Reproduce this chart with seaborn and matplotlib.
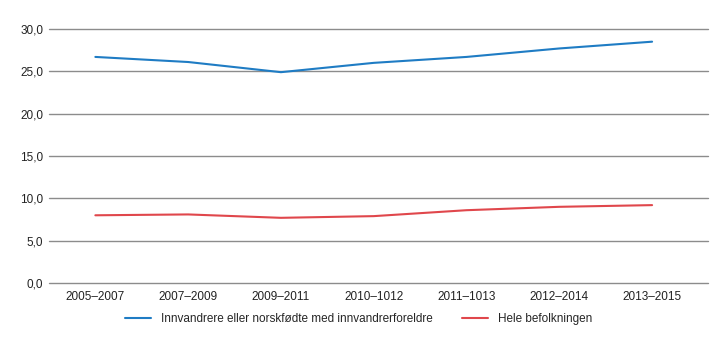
import matplotlib
matplotlib.use("Agg")
import matplotlib.pyplot as plt
import seaborn as sns
import pandas as pd

categories = ["2005–2007", "2007–2009", "2009–2011", "2010–1012", "2011–1013", "2012–2014", "2013–2015"]
innvandrere = [26.7, 26.1, 24.9, 26.0, 26.7, 27.7, 28.5]
hele = [8.0, 8.1, 7.7, 7.9, 8.6, 9.0, 9.2]
series_names = ["Innvandrere eller norskfødte med innvandrerforeldre", "Hele befolkningen"]
yticks = [0, 5, 10, 15, 20, 25, 30]

sns.set_theme(style="white")
plt.rcParams['font.family'] = ['Liberation Sans Narrow', 'Liberation Sans', 'DejaVu Sans']

df = pd.DataFrame({
    "periode": categories * 2,
    "verdi": innvandrere + hele,
    "serie": [series_names[0]] * len(categories) + [series_names[1]] * len(categories),
})

fig = plt.figure(figsize=(7.2, 3.41), dpi=100)
ax = fig.add_axes([0.068, 0.17, 0.915, 0.745])

for y in yticks:
    ax.axhline(y, color="#8c8c8c", lw=1.0, zorder=0, clip_on=False)

sns.lineplot(data=df, x="periode", y="verdi", hue="serie", sort=False,
             palette=["#1f7cc4", "#e0474c"], lw=1.5, ax=ax)

ax.set_xlim(-0.5, len(categories) - 0.4)
ax.set_ylim(0, 30)
ax.set_yticks(yticks)
ax.set_yticklabels([f"{v:.1f}".replace(".", ",") for v in yticks], fontsize=8.5, color="#222222")
ax.tick_params(axis="x", labelsize=8.5, colors="#222222", length=0, pad=6)
ax.tick_params(axis="y", length=0, pad=4)
ax.set_xlabel("")
ax.set_ylabel("")
for s in ax.spines.values():
    s.set_visible(False)

ax.legend(loc="upper center", bbox_to_anchor=(0.47, -0.075), ncol=2, frameon=False,
          fontsize=8.5, handlelength=2.2, columnspacing=2.5, title=None)

fig.savefig("out.png", dpi=100)
